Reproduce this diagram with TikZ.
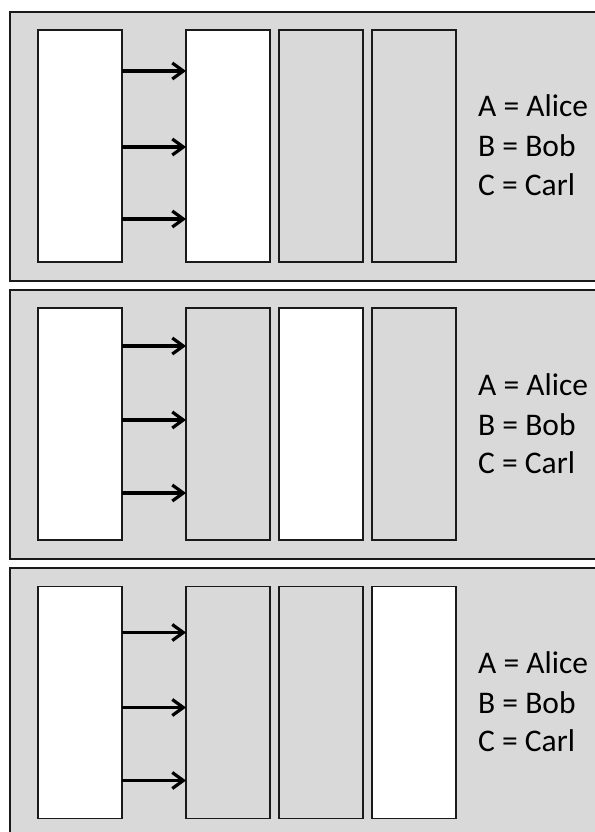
\documentclass[tikz,border=0pt]{standalone}
\usepackage{fontspec}
\setmainfont{Carlito}
\usetikzlibrary{arrows.meta, positioning}
\definecolor{panelgray}{HTML}{D9D9D9}
\definecolor{edgeblack}{HTML}{1A1A1A}
\tikzset{
    panel/.style={rectangle, draw=edgeblack, fill=panelgray, line width=1.6pt, minimum width=620pt, minimum height=269pt, inner sep=0pt, outer sep=0pt, anchor=north west},
    slot/.style={rectangle, draw=edgeblack, fill=panelgray, line width=1.5pt, minimum width=84pt, minimum height=232pt, inner sep=0pt, outer sep=0pt},
    litslot/.style={slot, fill=white},
    arrow/.style={-{Straight Barb[length=11pt, width=16pt, line width=3.2pt]}, line width=3.8pt, draw=black},
    legend/.style={anchor=base west, inner sep=0pt, font=\fontsize{31.5}{39}\selectfont}
}
\begin{document}
\begin{tikzpicture}[x=1pt, y=-1pt, node distance=9pt]
    \useasboundingbox (0,0) rectangle (594,832);

    % first panel: slot A lit
    \node[panel] (p1) at (10,12) {};
    \node[litslot] (p1src) at (80,146) {};
    \node[litslot, right=64pt of p1src] (p1a) {};
    \node[slot, right=of p1a] (p1b) {};
    \node[slot, right=of p1b] (p1c) {};
    \draw[arrow] ([yshift=-41pt]p1src.north east) -- ([yshift=-41pt]p1a.north west);
    \draw[arrow] ([yshift=-117pt]p1src.north east) -- ([yshift=-117pt]p1a.north west);
    \draw[arrow] ([yshift=-189pt]p1src.north east) -- ([yshift=-189pt]p1a.north west);
    \node[legend] (p1alice) at (478,117) {A = Alice};
    \node[legend] (p1bob) at (478,157) {B = Bob};
    \node[legend] (p1carl) at (478,195) {C = Carl};

    % second panel: slot B lit
    \node[panel] (p2) at (10,290) {};
    \node[litslot] (p2src) at (80,424) {};
    \node[slot, right=64pt of p2src] (p2a) {};
    \node[litslot, right=of p2a] (p2b) {};
    \node[slot, right=of p2b] (p2c) {};
    \draw[arrow] ([yshift=-38pt]p2src.north east) -- ([yshift=-38pt]p2a.north west);
    \draw[arrow] ([yshift=-112pt]p2src.north east) -- ([yshift=-112pt]p2a.north west);
    \draw[arrow] ([yshift=-185pt]p2src.north east) -- ([yshift=-185pt]p2a.north west);
    \node[legend] (p2alice) at (478,395) {A = Alice};
    \node[legend] (p2bob) at (478,435) {B = Bob};
    \node[legend] (p2carl) at (478,473) {C = Carl};

    % third panel: slot C lit
    \node[panel] (p3) at (10,568) {};
    \node[litslot] (p3src) at (80,702.5) {};
    \node[slot, right=64pt of p3src] (p3a) {};
    \node[slot, right=of p3a] (p3b) {};
    \node[litslot, right=of p3b] (p3c) {};
    \draw[arrow] ([yshift=-46pt]p3src.north east) -- ([yshift=-46pt]p3a.north west);
    \draw[arrow] ([yshift=-121pt]p3src.north east) -- ([yshift=-121pt]p3a.north west);
    \draw[arrow] ([yshift=-194pt]p3src.north east) -- ([yshift=-194pt]p3a.north west);
    \node[legend] (p3alice) at (478,673) {A = Alice};
    \node[legend] (p3bob) at (478,713) {B = Bob};
    \node[legend] (p3carl) at (478,751) {C = Carl};
\end{tikzpicture}
\end{document}
